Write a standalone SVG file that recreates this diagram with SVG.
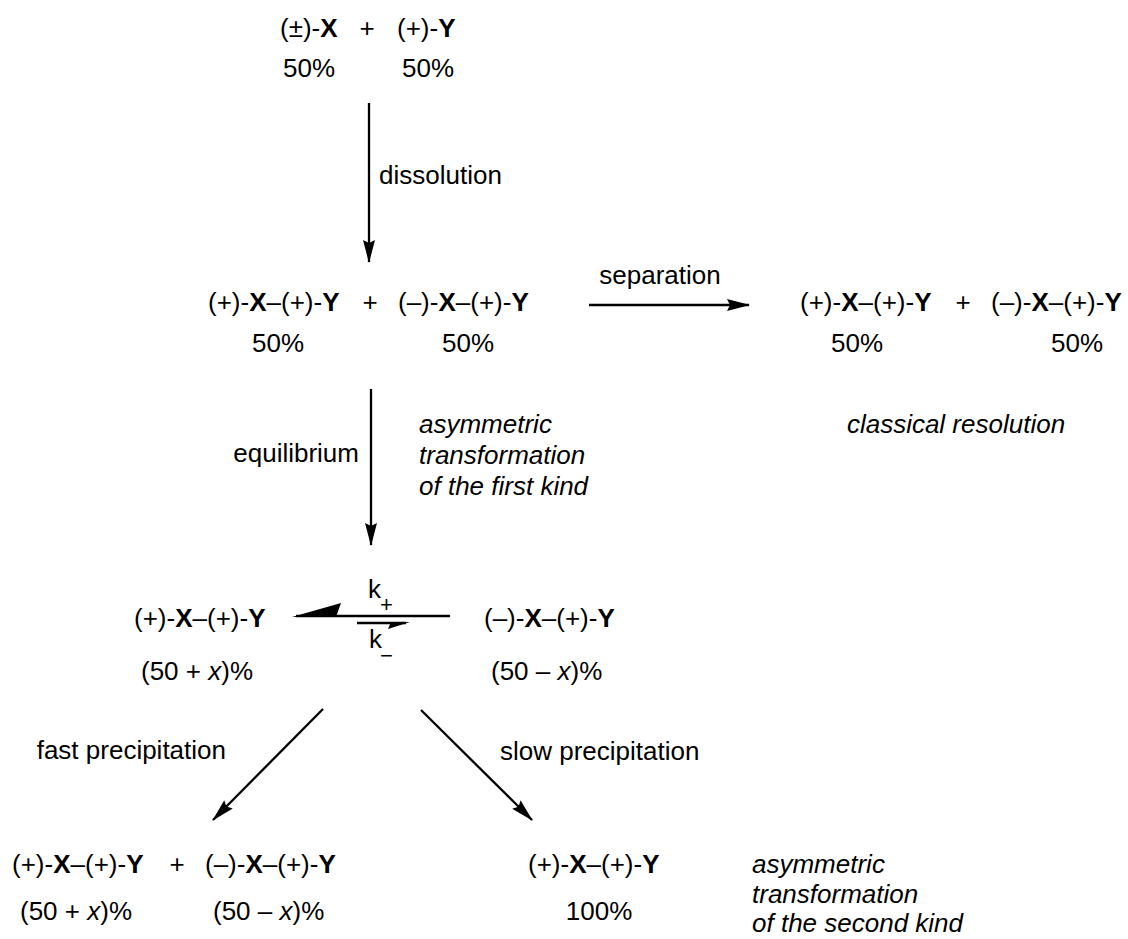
<svg xmlns="http://www.w3.org/2000/svg" width="1128" height="939" viewBox="0 0 1128 939">
  <style>
    text { font-family: "Liberation Sans", Arial, sans-serif; font-size: 26px; fill: #000; }
    .b { font-weight: bold; }
    .i { font-style: italic; }
    .m { text-anchor: middle; }
    .e { text-anchor: end; }
    .sub { font-size: 22px; }
    .ln { stroke: #000; stroke-width: 2.3; fill: none; }
  </style>
  <defs>
    <marker id="ah" markerUnits="userSpaceOnUse" markerWidth="26" markerHeight="16" viewBox="-24 -8 26 16" refX="0" refY="0" orient="auto">
      <path d="M1,0 L-22,-6 L-19,0 L-22,6 Z" fill="#000"/>
    </marker>
  </defs>

  <rect width="1128" height="939" fill="#fff"/>

  <!-- connectors -->
  <g id="connectors">
    <line class="ln" x1="369" y1="103" x2="369" y2="262" marker-end="url(#ah)"/>
    <line class="ln" x1="589" y1="305" x2="749" y2="305" marker-end="url(#ah)"/>
    <line class="ln" x1="371" y1="389" x2="371" y2="545" marker-end="url(#ah)"/>
    <line class="ln" x1="323" y1="709" x2="213" y2="820" marker-end="url(#ah)"/>
    <line class="ln" x1="421" y1="710" x2="532" y2="820" marker-end="url(#ah)"/>
    <!-- equilibrium half-arrows -->
    <line class="ln" x1="296" y1="616" x2="450" y2="616"/>
    <path d="M292,617 L341,603 L336,617 Z" fill="#000"/>
    <line class="ln" x1="357" y1="623" x2="406" y2="623"/>
    <path d="M410,622 L388,629 L391,622 Z" fill="#000"/>
  </g>

  <!-- labels on connectors -->
  <g id="arrow-labels">
    <text x="379" y="184">dissolution</text>
    <text x="660" y="284" class="m">separation</text>
    <text x="359" y="462" class="e">equilibrium</text>
    <text x="419" y="433" class="i">asymmetric</text>
    <text x="419" y="464" class="i">transformation</text>
    <text x="419" y="495" class="i">of the first kind</text>
    <text x="368" y="598">k</text>
    <text x="380" y="612" class="sub">+</text>
    <text x="369" y="648">k</text>
    <text x="380" y="663" class="sub">−</text>
    <text x="226" y="759" class="e">fast precipitation</text>
    <text x="500" y="760">slow precipitation</text>
  </g>

  <!-- starting materials -->
  <g id="node-start">
    <text x="280" y="37">(±)-<tspan class="b">X</tspan></text>
    <text x="367" y="37" class="m">+</text>
    <text x="397" y="37">(+)-<tspan class="b">Y</tspan></text>
    <text x="309" y="77" class="m">50%</text>
    <text x="428" y="77" class="m">50%</text>
  </g>

  <!-- diastereomeric salts in solution -->
  <g id="node-salts">
    <text x="208" y="311">(+)-<tspan class="b">X</tspan>–(+)-<tspan class="b">Y</tspan></text>
    <text x="370" y="311" class="m">+</text>
    <text x="398" y="311">(–)-<tspan class="b">X</tspan>–(+)-<tspan class="b">Y</tspan></text>
    <text x="278" y="352" class="m">50%</text>
    <text x="468" y="352" class="m">50%</text>
  </g>

  <!-- classical resolution -->
  <g id="node-classical">
    <text x="800" y="311">(+)-<tspan class="b">X</tspan>–(+)-<tspan class="b">Y</tspan></text>
    <text x="963" y="311" class="m">+</text>
    <text x="991" y="311">(–)-<tspan class="b">X</tspan>–(+)-<tspan class="b">Y</tspan></text>
    <text x="857" y="352" class="m">50%</text>
    <text x="1077" y="352" class="m">50%</text>
    <text x="956" y="433" class="m i">classical resolution</text>
  </g>

  <!-- equilibrating salts -->
  <g id="node-equilibrium-left">
    <text x="134" y="627">(+)-<tspan class="b">X</tspan>–(+)-<tspan class="b">Y</tspan></text>
    <text x="141" y="680">(50 + <tspan class="i">x</tspan>)%</text>
  </g>
  <g id="node-equilibrium-right">
    <text x="484" y="627">(–)-<tspan class="b">X</tspan>–(+)-<tspan class="b">Y</tspan></text>
    <text x="491" y="680">(50 – <tspan class="i">x</tspan>)%</text>
  </g>

  <!-- fast precipitation product -->
  <g id="node-fast">
    <text x="12" y="873">(+)-<tspan class="b">X</tspan>–(+)-<tspan class="b">Y</tspan></text>
    <text x="177" y="873" class="m">+</text>
    <text x="205" y="873">(–)-<tspan class="b">X</tspan>–(+)-<tspan class="b">Y</tspan></text>
    <text x="20" y="920">(50 + <tspan class="i">x</tspan>)%</text>
    <text x="213" y="920">(50 – <tspan class="i">x</tspan>)%</text>
  </g>

  <!-- slow precipitation product -->
  <g id="node-slow">
    <text x="528" y="873">(+)-<tspan class="b">X</tspan>–(+)-<tspan class="b">Y</tspan></text>
    <text x="599" y="920" class="m">100%</text>
    <text x="752" y="873" class="i">asymmetric</text>
    <text x="752" y="903" class="i">transformation</text>
    <text x="752" y="932" class="i">of the second kind</text>
  </g>
</svg>
